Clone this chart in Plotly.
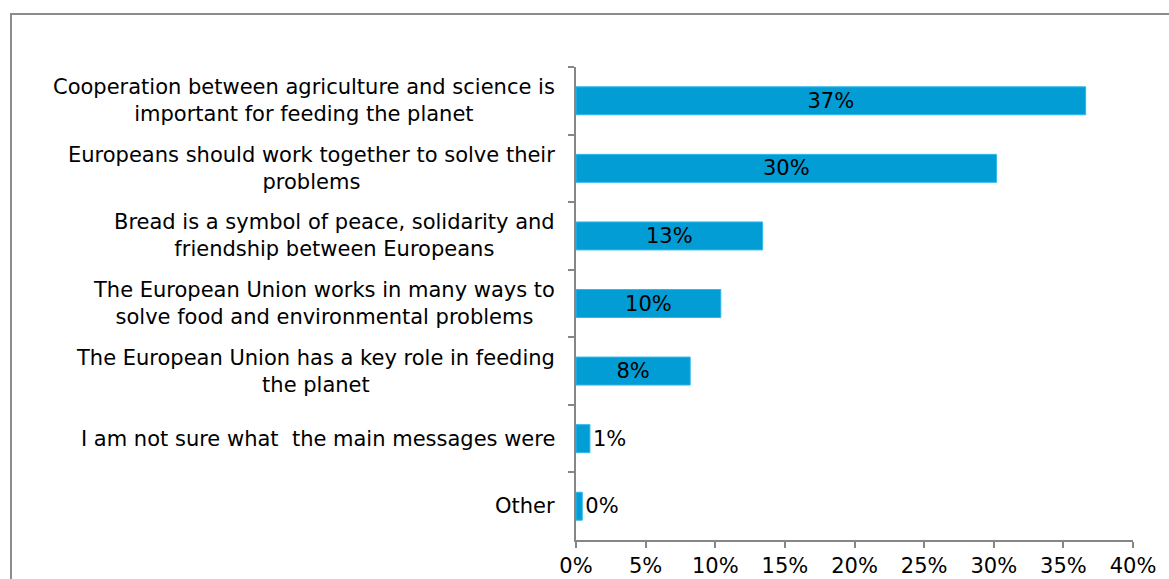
import plotly.graph_objects as go

# Survey answers: main messages remembered
statements = [
    "Cooperation between agriculture and science is<br>important for feeding the planet",
    "Europeans should work together to solve their<br>problems",
    "Bread is a symbol of peace, solidarity and<br>friendship between Europeans",
    "The European Union works in many ways to<br>solve food and environmental problems",
    "The European Union has a key role in feeding<br>the planet",
    "I am not sure what\u00a0 the main messages were",
    "Other",
]
shares = [36.6, 30.2, 13.4, 10.4, 8.2, 1.0, 0.45]
label_positions = ["inside", "inside", "inside", "inside", "inside", "outside", "outside"]
tick_values = [0, 5, 10, 15, 20, 25, 30, 35, 40]
tick_labels = ["0%", "5%", "10%", "15%", "20%", "25%", "30%", "35%", "40%"]

FONT = "DejaVu Sans, Verdana, sans-serif"
FS = 21
W, H = 1169, 579
ML, MR, MT, MB = 576, 36, 67, 39
plot_w = W - ML - MR
plot_h = H - MT - MB

fig = go.Figure(
    go.Bar(
        x=shares,
        y=statements,
        orientation="h",
        marker=dict(color="#029DD5", line=dict(color="#2FB8EC", width=1)),
        texttemplate="%{x:.0f}%",
        textposition=label_positions,
        insidetextanchor="middle",
        insidetextfont=dict(color="#000000", size=FS, family=FONT),
        outsidetextfont=dict(color="#000000", size=FS, family=FONT),
        constraintext="none",
        cliponaxis=False,
        hoverinfo="skip",
    )
)

# Category labels: right-anchored blocks with centred lines
for s in statements:
    fig.add_annotation(
        x=0, xref="paper", xanchor="right", xshift=-19,
        y=s, yref="y", yanchor="middle",
        text=s, align="center", showarrow=False,
        font=dict(size=FS, family=FONT, color="#000000"),
    )

# Chart frame
fig.add_shape(
    type="rect", xref="paper", yref="paper",
    x0=(11 - ML) / plot_w, x1=(W + 10 - ML) / plot_w,
    y0=-(MB + 20) / plot_h, y1=1 + (MT - 14) / plot_h,
    line=dict(color="#8C8C8C", width=2), fillcolor="rgba(0,0,0,0)",
    layer="below",
)

fig.update_layout(
    template="none",
    width=W, height=H,
    margin=dict(l=ML, r=MR, t=MT, b=MB, autoexpand=False),
    paper_bgcolor="#FFFFFF", plot_bgcolor="#FFFFFF",
    bargap=0.586,
    showlegend=False,
    font=dict(family=FONT, size=FS, color="#000000"),
    xaxis=dict(
        range=[0, 40], tickvals=tick_values, ticktext=tick_labels,
        showgrid=False, zeroline=False, automargin=False,
        showline=True, linecolor="#868686", linewidth=2,
        ticks="outside", ticklen=6, tickwidth=2, tickcolor="#868686",
        tickfont=dict(size=FS, family=FONT, color="#000000"),
        fixedrange=True,
    ),
    yaxis=dict(
        categoryorder="array", categoryarray=statements,
        autorange="reversed", automargin=False,
        showticklabels=False, showgrid=False, zeroline=False,
        showline=True, linecolor="#868686", linewidth=2,
        ticks="outside", ticklen=6, tickwidth=2, tickcolor="#868686",
        tickson="boundaries",
        fixedrange=True,
    ),
)

fig.write_html("out.html")
